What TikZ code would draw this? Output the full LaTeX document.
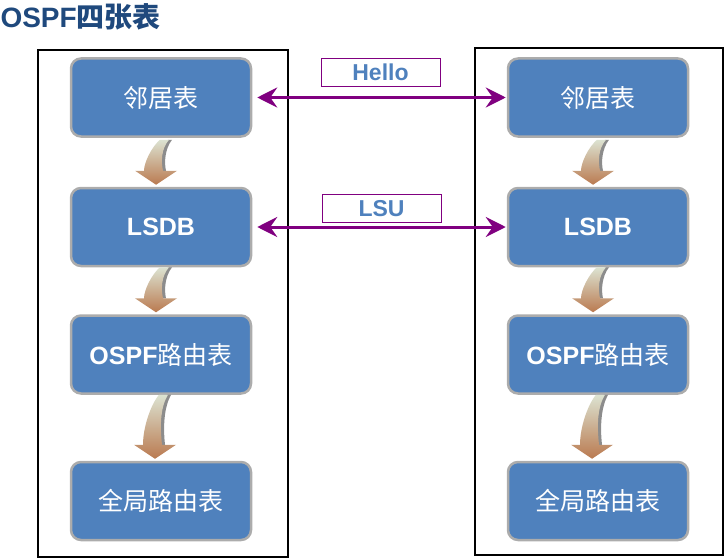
\documentclass[tikz,border=0pt]{standalone}
\usepackage{fontspec}
\setmainfont{Liberation Sans}
\newfontfamily\cjk{Noto Sans CJK SC}
\usetikzlibrary{arrows.meta}
\definecolor{boxblue}{HTML}{4F81BD}
\definecolor{titleblue}{HTML}{1F497D}
\definecolor{linkpurple}{HTML}{800080}
\definecolor{fadetop}{HTML}{DCE3D2}
\definecolor{fademid}{HTML}{959F80}
\definecolor{fadebot}{HTML}{BA7A50}
\tikzset{
  tbl/.style={draw=gray!65,line width=2.5pt,fill=boxblue,rounded corners=10pt,
    minimum width=180pt,minimum height=78pt,text=white,font=\fontsize{25}{28}\selectfont},
  msg/.style={draw=linkpurple,line width=0.8pt,minimum width=119pt,minimum height=28pt,
    inner sep=0pt,text=boxblue,font=\fontsize{23}{26}\selectfont\bfseries},
  link/.style={linkpurple,line width=3pt,
    {Stealth[length=20pt,width=20pt,inset=7pt]}-{Stealth[length=20pt,width=20pt,inset=7pt]},
    shorten <=5pt,shorten >=1pt},
  pics/bendarrow/.style={code={
    \fill[black,opacity=0.45] (5,-14) -- (10,-14) .. controls (8,{-0.5*#1}) and (9,{-0.8*#1}) .. (16,-#1) -- (12,-#1) .. controls (5,{-0.8*#1}) and (5,{-0.5*#1}) .. cycle;
    \shade[top color=fadetop,middle color=fademid,bottom color=fadebot,shading angle=0]
      (0,0) -- (-21,-14) -- (-12,-14) .. controls (-12,{-0.5*#1}) and (-4,{-0.85*#1}) .. (4,-#1)
      -- (13,-#1) .. controls (5,{-0.8*#1}) and (5,{-0.5*#1}) .. (7,-14) -- (21,-14) -- cycle;
  }}
}
\begin{document}
\begin{tikzpicture}[x=1pt,y=-1pt]
\useasboundingbox (0,0) rectangle (727,559);
\node[anchor=west,text=titleblue,font=\fontsize{28}{31}\selectfont\bfseries] (title) at (-3,17) {OSPF{\cjk 四张表}};
% left router
\draw[line width=1.8pt] (38,50) rectangle (288,557);
\node[tbl] (l1) at (161,97.5) {\cjk 邻居表};
\node[tbl] (l2) at (161,227) {\bfseries LSDB};
\node[tbl] (l3) at (161,354.5) {\bfseries OSPF{\cjk\mdseries 路由表}};
\node[tbl] (l4) at (161,501) {\cjk 全局路由表};
% right router
\draw[line width=1.8pt] (475,48) rectangle (723,555);
\node[tbl] (r1) at (598,97.5) {\cjk 邻居表};
\node[tbl] (r2) at (598,227) {\bfseries LSDB};
\node[tbl] (r3) at (598,354.5) {\bfseries OSPF{\cjk\mdseries 路由表}};
\node[tbl] (r4) at (598,501) {\cjk 全局路由表};
% flow inside each router
\pic at ([xshift=-5pt,yshift=2pt]l2.north) {bendarrow=45};
\pic at ([xshift=-5pt,yshift=2pt]l3.north) {bendarrow=45};
\pic at ([xshift=-6pt,yshift=2pt]l4.north) {bendarrow=64};
\pic at ([xshift=-5pt,yshift=2pt]r2.north) {bendarrow=45};
\pic at ([xshift=-5pt,yshift=2pt]r3.north) {bendarrow=45};
\pic at ([xshift=-6pt,yshift=2pt]r4.north) {bendarrow=64};
% messages
\node[msg] (hello) at (380.5,72) {Hello};
\node[msg] (lsu) at (381.5,208.5) {LSU};
\draw[link] (l1) -- (r1);
\draw[link] (l2) -- (r2);
\end{tikzpicture}
\end{document}
